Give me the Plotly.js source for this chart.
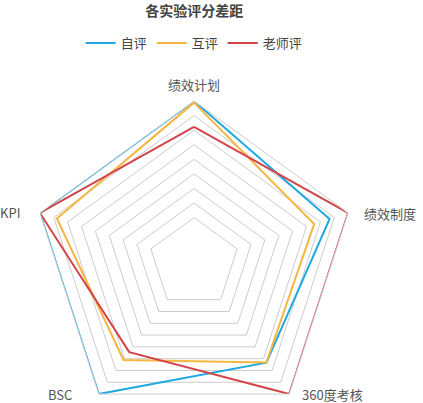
<!DOCTYPE html>
<html>
<head>
<meta charset="utf-8">
<script src="https://cdn.plot.ly/plotly-3.0.1.min.js"></script>
<style>html,body{margin:0;padding:0;overflow:hidden;background:#fff}</style>
</head>
<body>
<div id="chart" style="width:423px;height:440px"></div>
<script>
const categories = ["绩效计划", "绩效制度", "360度考核", "BSC", "KPI"];
const selfScores = [100, 88, 76, 100, 100];
const peerScores = [99, 78, 76, 74, 89];
const teacherScores = [84, 100, 100, 68, 100];
const ringValues = [28, 37, 46, 55, 64, 73, 82, 91, 100];

// label anchor spots in pixels from the top-left (x, y, anchor)
const labelSpots = [[194, 84, "center"], [362, 213, "left"], [300, 394, "left"], [74, 394, "right"], [22, 212, "right"]];

function closed(arr) { return arr.concat([arr[0]]); }

function trace(name, values, color) {
  return {
    type: "scatterpolar",
    name: name,
    r: closed(values),
    theta: closed(categories),
    mode: "lines",
    line: { color: color, width: 2 },
    hoverinfo: "name+r+theta"
  };
}

const data = [
  trace("自评", selfScores, "#1ea9e1"),
  trace("互评", peerScores, "#f6b53f"),
  trace("老师评", teacherScores, "#d2444a")
];

const annotations = categories.map((c, i) => ({
  text: c,
  xref: "paper", yref: "paper",
  x: labelSpots[i][0] / 423,
  y: 1 - labelSpots[i][1] / 440,
  xanchor: labelSpots[i][2],
  yanchor: "middle",
  showarrow: false,
  font: { size: 13, color: "#555" }
}));

const layout = {
  width: 423,
  height: 440,
  margin: { l: 0, r: 0, t: 0, b: 0 },
  font: { family: "Noto Sans CJK SC, sans-serif", color: "#555", size: 13 },
  title: {
    text: "<b>各实验评分差距</b>",
    font: { size: 14, color: "#444" },
    x: 0.459, xanchor: "center",
    y: 1 - 11 / 440, yanchor: "middle"
  },
  showlegend: true,
  legend: {
    orientation: "h",
    x: 0.459, xanchor: "center",
    y: 1 - 43 / 440, yanchor: "middle",
    font: { size: 13, color: "#444" }
  },
  annotations: annotations,
  polar: {
    domain: { x: [32 / 423, 356 / 423], y: [15 / 440, 339 / 440] },
    gridshape: "linear",
    bgcolor: "#fff",
    radialaxis: {
      range: [0, 100],
      tickvals: ringValues,
      showticklabels: false,
      ticks: "",
      showline: false,
      gridcolor: "#cccccc",
      gridwidth: 1
    },
    angularaxis: {
      rotation: 90,
      direction: "clockwise",
      showgrid: false,
      showticklabels: false,
      linecolor: "#cccccc",
      ticks: ""
    }
  }
};

Plotly.newPlot("chart", data, layout, { displayModeBar: false });
</script>
</body>
</html>
